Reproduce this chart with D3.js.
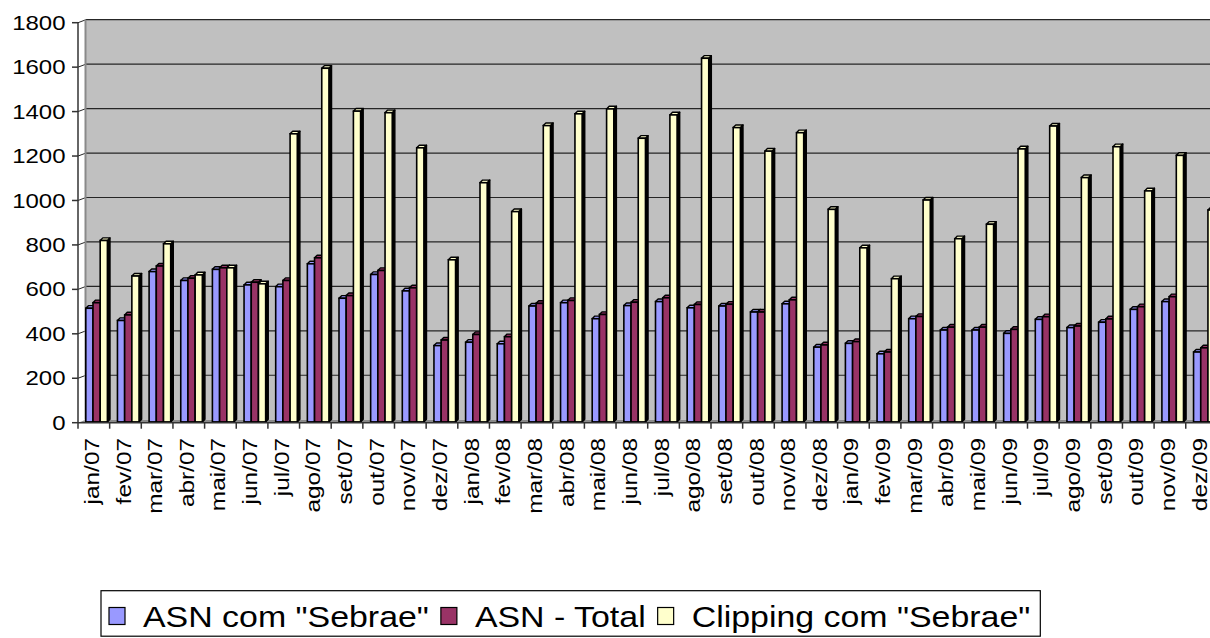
<!DOCTYPE html>
<html>
<head>
<meta charset="utf-8">
<script src="https://cdn.jsdelivr.net/npm/d3@7"></script>
<style>
  html, body { margin: 0; padding: 0; background: #fff; }
  svg { display: block; font-family: "Liberation Sans", Arial, sans-serif; }
</style>
</head>
<body>
<svg id="chart" width="1210" height="638"></svg>
<script>
const categories = ["jan/07","fev/07","mar/07","abr/07","mai/07","jun/07","jul/07","ago/07","set/07","out/07","nov/07","dez/07",
  "jan/08","fev/08","mar/08","abr/08","mai/08","jun/08","jul/08","ago/08","set/08","out/08","nov/08","dez/08",
  "jan/09","fev/09","mar/09","abr/09","mai/09","jun/09","jul/09","ago/09","set/09","out/09","nov/09","dez/09"];
const asnSebrae = [515,460,680,640,690,620,612,715,560,667,593,347,362,355,525,540,468,527,545,517,525,498,535,340,357,310,468,417,417,402,465,428,452,510,545,318];
const asnTotal  = [540,485,705,650,697,632,640,742,572,685,607,372,397,387,537,550,487,542,562,532,533,498,553,350,365,318,478,430,430,420,477,435,467,522,567,337];
const clipping  = [820,660,805,665,697,625,1300,1595,1402,1395,1237,733,1080,950,1337,1390,1412,1280,1385,1640,1328,1222,1305,960,787,648,1002,828,893,1232,1335,1103,1242,1043,1203,957];
const seriesNames = ['ASN com "Sebrae"', 'ASN - Total', 'Clipping com "Sebrae"'];
const seriesColors = ["#9999FF", "#993366", "#FFFFCC"];
const yTicks = [0,200,400,600,800,1000,1200,1400,1600,1800];

const seriesData = [asnSebrae, asnTotal, clipping];
const svg = d3.select("#chart");

const x0 = 78, step = 31.65;
const x = d3.scaleBand().domain(categories).range([x0, x0 + step * categories.length]).padding(0);
const xs = d3.scaleBand().domain(d3.range(3)).range([7.8, 29.4]).padding(0);
const y = d3.scaleLinear().domain([0, 1800]).range([422.7, 22.7]);
const wallDx = 8, wallDy = 3;
const right = 1230;

svg.append("rect").attr("x", x0 + wallDx).attr("y", y(1800) - wallDy)
  .attr("width", right - x0 - wallDx).attr("height", y(0) - y(1800))
  .attr("fill", "#C0C0C0");
svg.append("g").selectAll("line").data(yTicks.slice(1)).join("line")
  .attr("x1", x0 + wallDx).attr("x2", right)
  .attr("y1", d => y(d) - wallDy).attr("y2", d => y(d) - wallDy)
  .attr("stroke", "#262626").attr("stroke-width", 1.2);
svg.append("g").selectAll("line").data(yTicks.slice(1)).join("line")
  .attr("x1", x0).attr("x2", x0 + wallDx)
  .attr("y1", d => y(d)).attr("y2", d => y(d) - wallDy)
  .attr("stroke", "#262626").attr("stroke-width", 1);
svg.append("line").attr("x1", x0 + wallDx - 0.5).attr("x2", x0 + wallDx - 0.5)
  .attr("y1", y(1800) - wallDy).attr("y2", y(0) - wallDy)
  .attr("stroke", "#8A8A8A").attr("stroke-width", 2);
svg.append("path")
  .attr("d", `M${x0},${y(0)} L${x0 + wallDx},${y(0) - wallDy} L${right},${y(0) - wallDy} L${right},${y(0)} Z`)
  .attr("fill", "#8A8A8A");

const d = 2.6;
const barW = xs.bandwidth();
const gBars = svg.append("g");
categories.forEach((c, i) => {
  seriesData.forEach((arr, s) => {
    const v = arr[i];
    const bx = x(c) + xs(s);
    const top = y(v);
    const bot = y(0) - 0.8;
    const g = gBars.append("g");
    g.append("path")
      .attr("d", `M${bx + barW},${bot} L${bx + barW},${top} L${bx + barW + d},${top - d} L${bx + barW + d},${bot - d} Z`)
      .attr("fill", "#000").attr("stroke", "#000").attr("stroke-width", 1.4).attr("stroke-linejoin", "round");
    g.append("path")
      .attr("d", `M${bx},${top} L${bx + d},${top - d} L${bx + barW + d},${top - d} L${bx + barW},${top} Z`)
      .attr("fill", seriesColors[s]).attr("stroke", "#000").attr("stroke-width", 1.4).attr("stroke-linejoin", "round");
    g.append("rect").attr("x", bx).attr("y", top).attr("width", barW).attr("height", bot - top)
      .attr("fill", seriesColors[s]).attr("stroke", "#000").attr("stroke-width", 1.6);
  });
});

svg.append("line").attr("x1", x0).attr("x2", x0).attr("y1", y(1800)).attr("y2", y(0))
  .attr("stroke", "#333").attr("stroke-width", 1.5);
const yg = svg.append("g");
yg.selectAll("line").data(yTicks).join("line")
  .attr("x1", x0 - 6).attr("x2", x0).attr("y1", d => y(d)).attr("y2", d => y(d))
  .attr("stroke", "#333").attr("stroke-width", 1.5);
yg.selectAll("text").data(yTicks).join("text")
  .attr("transform", d => `translate(65.5,${y(d)}) scale(1.23,1)`)
  .attr("text-anchor", "end").attr("dy", "0.36em")
  .attr("font-size", 19.5).attr("fill", "#000")
  .text(d => d);

svg.append("line").attr("x1", x0).attr("x2", right).attr("y1", y(0)).attr("y2", y(0))
  .attr("stroke", "#333").attr("stroke-width", 1.5);
const xg = svg.append("g");
xg.selectAll("line").data(categories.concat(["_end"])).join("line")
  .attr("x1", (c, i) => x0 + i * step).attr("x2", (c, i) => x0 + i * step)
  .attr("y1", y(0)).attr("y2", y(0) + 6)
  .attr("stroke", "#333").attr("stroke-width", 1.5);
xg.selectAll("text").data(categories).join("text")
  .attr("transform", c => `translate(${x(c) + x.bandwidth() / 2 - 2},438) rotate(-90) scale(1.25,1)`)
  .attr("text-anchor", "end").attr("dy", "0.36em")
  .attr("font-size", 19.5).attr("fill", "#000")
  .text(c => c);

const leg = svg.append("g");
const legRect = leg.append("rect").attr("y", 590.7).attr("height", 45.5)
  .attr("fill", "#fff").attr("stroke", "#000").attr("stroke-width", 1.2);
let lx = 109;
const legFont = 30, legScale = 1.13;
seriesNames.forEach((name, s) => {
  leg.append("rect").attr("x", lx).attr("y", 607.5).attr("width", 16).attr("height", 17)
    .attr("fill", seriesColors[s]).attr("stroke", "#000").attr("stroke-width", 1.2);
  const t = leg.append("text")
    .attr("transform", `translate(${lx + 34},626.7) scale(${legScale},1)`)
    .attr("font-size", legFont).attr("fill", "#000").text(name);
  lx = lx + 34 + t.node().getComputedTextLength() * legScale + 12;
});
legRect.attr("x", 101).attr("width", lx - 101 - 2);
</script>
</body>
</html>
